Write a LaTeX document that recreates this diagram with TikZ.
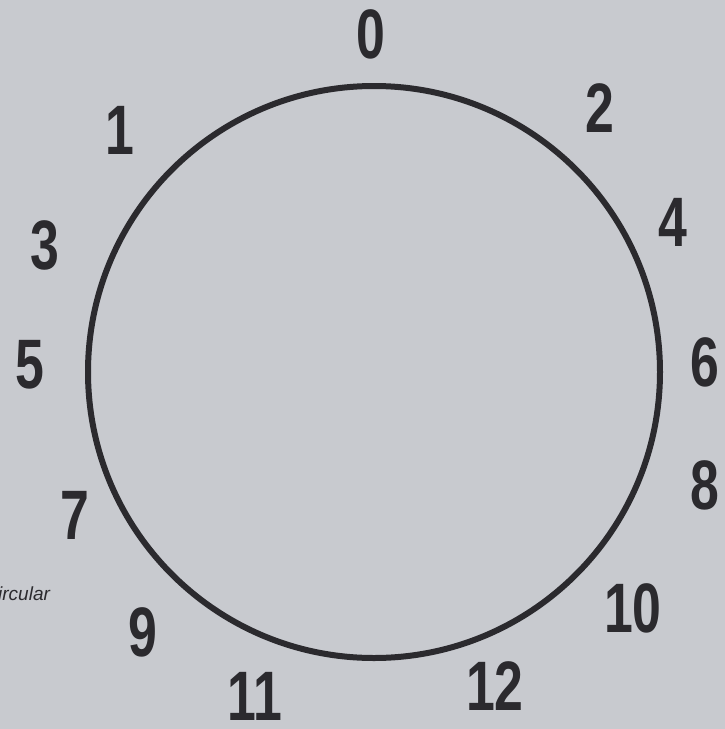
\documentclass[tikz,border=0pt]{standalone}
\usepackage{graphicx}
\usepackage{fontspec}
\setmainfont{Liberation Sans}
\usetikzlibrary{positioning}
\definecolor{paper}{HTML}{C8CACF}
\definecolor{ink}{HTML}{2B2A2E}
\tikzset{num/.style={text=ink,inner sep=0pt,font=\fontsize{70}{70}\selectfont\bfseries},
  dial/.style={circle,draw=ink,line width=6pt,inner sep=0pt,minimum size=572pt}}
\newcommand{\nar}[1]{\scalebox{0.74}[1]{#1}}

\begin{document}
\begin{tikzpicture}[x=1pt,y=-1pt]
\fill[paper] (0,0) rectangle (725,729);
\useasboundingbox (0,0) rectangle (725,729);
\node[dial] (c) at (374,372) {};
\node[num] (n0) at (371,34) {\nar{0}};
\node[num] (n1) at (120,130) {\nar{1}};
\node[num] (n2) at (600,108) {\nar{2}};
\node[num] (n3) at (45,245) {\nar{3}};
\node[num] (n4) at (673,222) {\nar{4}};
\node[num] (n5) at (30,365) {\nar{5}};
\node[num] (n6) at (705,362) {\nar{6}};
\node[num] (n7) at (75,515) {\nar{7}};
\node[num] (n8) at (705,485) {\nar{8}};
\node[num] (n9) at (143,632) {\nar{9}};
\node[num] (n10) at (633,608) {\nar{10}};
\node[num] (n11) at (255,696) {\nar{11}};
\node[num] (n12) at (495,686) {\nar{12}};
\node[text=ink,inner sep=0pt,anchor=base west,font=\fontsize{19}{19}\selectfont\itshape] (cap) at (-2,600) {ircular};
\end{tikzpicture}
\end{document}
